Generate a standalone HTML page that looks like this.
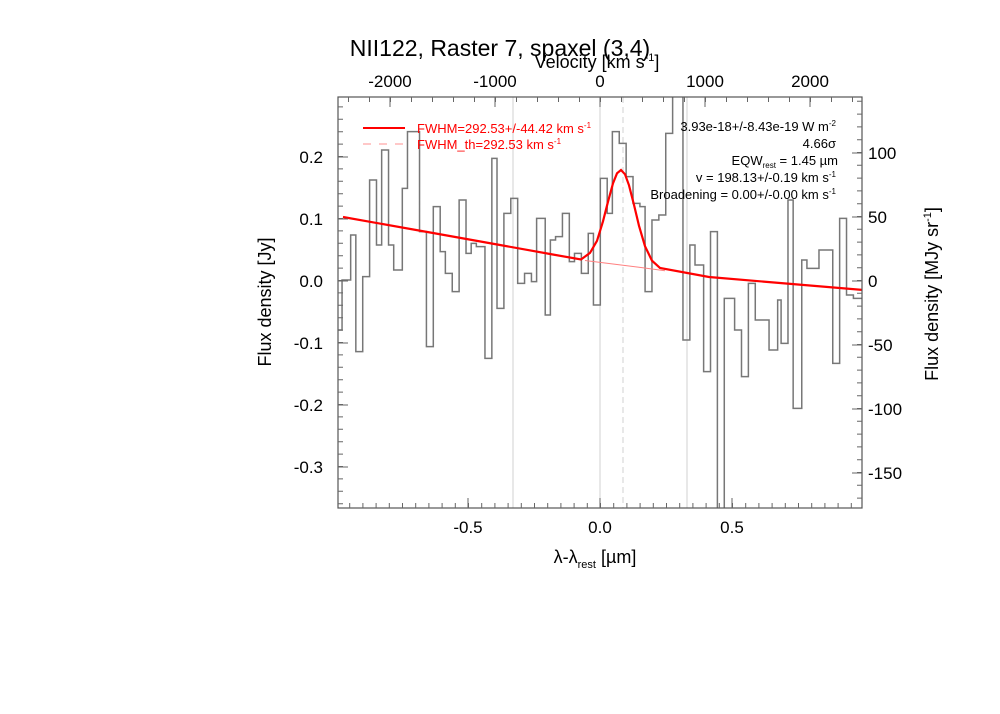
<!DOCTYPE html>
<html><head><meta charset="utf-8"><style>
html,body{margin:0;padding:0;background:#fff;}
svg{display:block;font-family:"Liberation Sans",sans-serif;}
</style></head><body>
<svg width="1000" height="714" viewBox="0 0 1000 714" xmlns="http://www.w3.org/2000/svg">
<defs><clipPath id="cp"><rect x="338" y="97" width="524" height="411"/></clipPath></defs>
<rect width="1000" height="714" fill="#fff"/>
<g stroke="#d0d0d0" stroke-width="1">
<line x1="513" y1="97" x2="513" y2="508"/>
<line x1="600" y1="97" x2="600" y2="508"/>
<line x1="687" y1="97" x2="687" y2="508"/>
<line x1="623" y1="97" x2="623" y2="508" stroke-dasharray="6,4"/>
</g>
<g clip-path="url(#cp)">
<g transform="translate(330,80) scale(0.34435,0.33333)">
<path fill="none" stroke="#777" stroke-width="1.5" vector-effect="non-scaling-stroke" d="M22,750H35V600H60V465H75V815H95V590H115V300H135V495H150V210H170V495H185V570H210V325H225V155H260V455H280V800H300V380H320V515H335V580H355V635H375V360H395V520H410V490H425V500H450V835H470V235H485V685H505V400H525V355H545V610H565V580H585V605H600V415H625V705H640V480H655V470H675V400H695V545H710V520H730V580H750V460H765V675H785V295H805V400H820V155H840V190H860V290H880V370H900V380H915V635H935V420H955V405H975V160H995V-200H1025V780H1045V495H1060V555H1085V875H1105V455H1125V1400H1145V655H1175V750H1195V890H1215V610H1235V720H1275V810H1300V660H1310V790H1330V360H1345V985H1370V540H1385V565H1420V510H1460V850H1480V415H1500V645H1520V655H1547"/>
</g>
<path fill="none" stroke="#ff8080" stroke-width="1" d="M585,260.5L600,262.4L621,265L640,267.4L665,270.7"/>
<path fill="none" stroke="#ff0000" stroke-width="2.2" d="M343,217L433,233L500,245L550,254L581,259.5L590,252.9L597,240.8L603,221.3L608,201.7L613,183.3L617,173.3L621,170L625,174.3L629,185.3L634,204.9L639,225.8L645,246.2L652,260.7L660,268L709,277L780,283L863,290"/>
</g>
<rect x="338" y="97" width="524" height="411" fill="none" stroke="#555" stroke-width="1.2"/>
<g stroke="#666" fill="none">
<line x1="349.2" y1="505.5" x2="862" y2="505.5" stroke-width="5" stroke-dasharray="1,12.2"/>
<line x1="348" y1="99.5" x2="862" y2="99.5" stroke-width="5" stroke-dasharray="1,20"/>
<line x1="340.5" y1="504.2" x2="340.5" y2="97" stroke-width="5" stroke-dasharray="1,11.4"/>
<line x1="859.5" y1="498.6" x2="859.5" y2="97" stroke-width="5" stroke-dasharray="1,11.8"/>
<path stroke-width="1" d="M468,508v-10M600,508v-10M732,508v-10M390,97v10M495,97v10M600,97v10M705,97v10M810,97v10M338,157h10M338,219h10M338,281h10M338,343h10M338,405h10M338,467h10M862,153h-10M862,217h-10M862,281h-10M862,345h-10M862,409h-10M862,473h-10"/>
</g>
<g font-size="17" fill="#000" text-anchor="middle">
<text x="468" y="533">-0.5</text><text x="600" y="533">0.0</text><text x="732" y="533">0.5</text>
<text x="390" y="87">-2000</text><text x="495" y="87">-1000</text><text x="600" y="87">0</text><text x="705" y="87">1000</text><text x="810" y="87">2000</text>
</g>
<g font-size="17" fill="#000" text-anchor="end">
<text x="323" y="163">0.2</text><text x="323" y="225">0.1</text><text x="323" y="287">0.0</text>
<text x="323" y="349">-0.1</text><text x="323" y="411">-0.2</text><text x="323" y="473">-0.3</text>
</g>
<g font-size="17" fill="#000" text-anchor="start">
<text x="868" y="159">100</text><text x="868" y="223">50</text><text x="868" y="287">0</text>
<text x="868" y="351">-50</text><text x="868" y="415">-100</text><text x="868" y="479">-150</text>
</g>
<text x="500" y="56" font-size="23" text-anchor="middle">NII122, Raster 7, spaxel (3,4)</text>
<text x="597" y="68" font-size="18" text-anchor="middle">Velocity [km s<tspan font-size="11" dy="-7">-1</tspan><tspan dy="7">]</tspan></text>
<text x="595" y="563" font-size="18" text-anchor="middle">λ-λ<tspan font-size="11" dy="5">rest</tspan><tspan dy="-5"> [µm]</tspan></text>
<text transform="translate(271,302) rotate(-90)" font-size="18" text-anchor="middle">Flux density [Jy]</text>
<text transform="translate(938,294) rotate(-90)" font-size="18" text-anchor="middle">Flux density [MJy sr<tspan font-size="11" dy="-7">-1</tspan><tspan dy="7">]</tspan></text>
<g font-size="13">
<line x1="363" y1="128" x2="405" y2="128" stroke="#f00" stroke-width="2"/>
<line x1="363" y1="144" x2="405" y2="144" stroke="#ff9090" stroke-width="1" stroke-dasharray="8,8"/>
<text x="417" y="133" fill="#f00">FWHM=292.53+/-44.42 km s<tspan font-size="8" dy="-5">-1</tspan></text>
<text x="417" y="149" fill="#f00">FWHM_th=292.53 km s<tspan font-size="8" dy="-5">-1</tspan></text>
<g text-anchor="end" fill="#000">
<text x="836" y="131">3.93e-18+/-8.43e-19 W m<tspan font-size="8" dy="-5">-2</tspan></text>
<text x="836" y="148">4.66σ</text>
<text x="838" y="165">EQW<tspan font-size="8" dy="3">rest</tspan><tspan dy="-3"> = 1.45 µm</tspan></text>
<text x="836" y="182">v = 198.13+/-0.19 km s<tspan font-size="8" dy="-5">-1</tspan></text>
<text x="836" y="199">Broadening = 0.00+/-0.00 km s<tspan font-size="8" dy="-5">-1</tspan></text>
</g></g>
</svg>
</body></html>
